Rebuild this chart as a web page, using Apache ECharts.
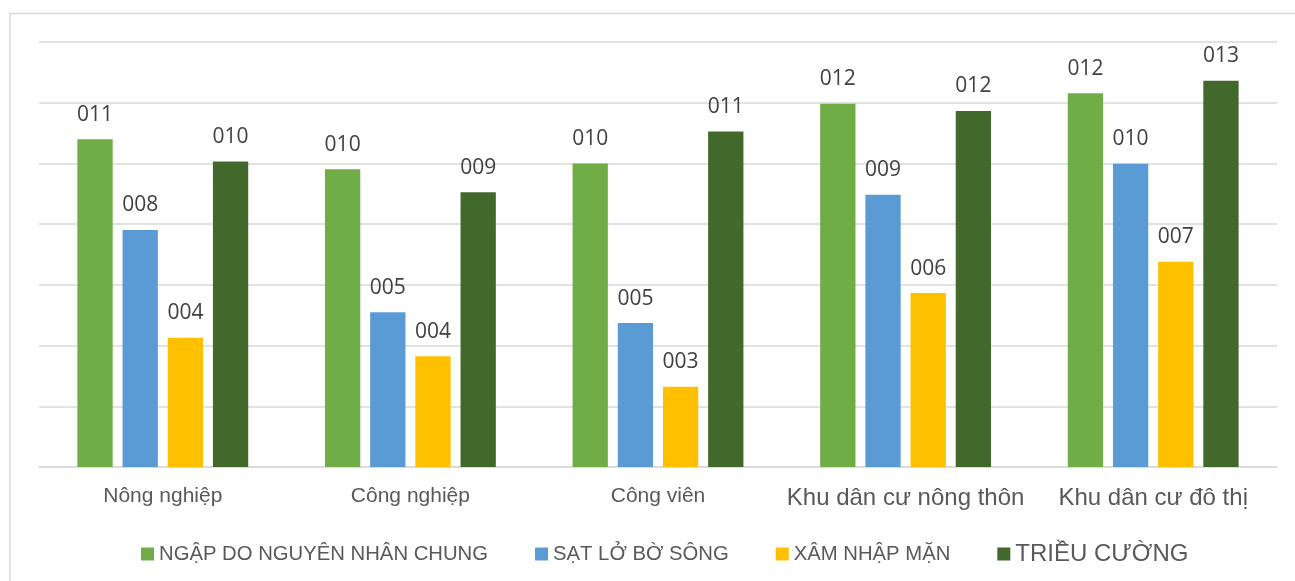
<!DOCTYPE html>
<html>
<head>
<meta charset="utf-8">
<script src="https://cdn.jsdelivr.net/npm/echarts@6/dist/echarts.min.js"></script>
<style>
  html, body { margin: 0; padding: 0; background: #ffffff; }
  #chart { width: 1295px; height: 581px; }
</style>
</head>
<body>
<div id="chart"></div>
<script>
// Nhóm đối tượng chịu ảnh hưởng
const categories = ['Nông nghiệp', 'Công nghiệp', 'Công viên', 'Khu dân cư nông thôn', 'Khu dân cư đô thị'];

// Tên các loại rủi ro
const seriesNames = ['NGẬP DO NGUYÊN NHÂN CHUNG', 'SẠT LỞ BỜ SÔNG', 'XÂM NHẬP MẶN', 'TRIỀU CƯỜNG'];

// Giá trị theo từng loại rủi ro
const ngapChung = [10.80, 9.81, 10.00, 11.97, 12.31];
const satLo     = [7.81, 5.10, 4.74, 8.97, 9.99];
const xamNhap   = [4.26, 3.65, 2.64, 5.73, 6.76];
const trieuCuong = [10.06, 9.05, 11.05, 11.73, 12.72];

// Trục tung (ẩn nhãn)
const yMin = 0, yMax = 14, yStep = 2;

const colors = ['#70AD47', '#5B9BD5', '#FFC000', '#43682B'];
const seriesValues = [ngapChung, satLo, xamNhap, trieuCuong];

const pad3 = v => String(Math.round(v)).padStart(3, '0');

const chart = echarts.init(document.getElementById('chart'), null, { renderer: 'canvas' });

chart.setOption({
  animation: false,
  backgroundColor: '#ffffff',
  color: colors,
  graphic: [{
    type: 'rect',
    shape: { x: 10, y: 13.5, width: 1300, height: 600 },
    style: { fill: 'none', stroke: '#d9d9d9', lineWidth: 1.5 },
    silent: true
  }],
  grid: { left: 39, right: 18, top: 42, bottom: 114 },
  legend: {
    data: seriesNames.map((name, i) => i === 3
      ? { name, textStyle: { fontSize: 24 } }
      : { name }),
    left: 136,
    top: 537,
    icon: 'rect',
    itemWidth: 13,
    itemHeight: 13,
    itemGap: 47,
    textStyle: { color: '#595959', fontFamily: 'Liberation Sans', fontSize: 20.3 }
  },
  xAxis: {
    type: 'category',
    data: categories,
    axisLine: { lineStyle: { color: '#d9d9d9', width: 1.5 } },
    axisTick: { show: false },
    axisLabel: {
      color: '#595959', fontFamily: 'Liberation Sans', fontSize: 21, margin: 19, interval: 0,
      formatter: (v, idx) => idx >= 3 ? '{w|' + v + '}' : v,
      rich: { w: { color: '#595959', fontFamily: 'Liberation Sans', fontSize: 24 } }
    }
  },
  yAxis: {
    type: 'value',
    min: yMin, max: yMax, interval: yStep,
    axisLabel: { show: false },
    axisLine: { show: false },
    axisTick: { show: false },
    splitLine: { lineStyle: { color: '#d9d9d9', width: 1.5 } }
  },
  series: seriesNames.map((name, i) => ({
    name,
    type: 'bar',
    data: seriesValues[i],
    barGap: '28%',
    barCategoryGap: '31%',
    itemStyle: { color: colors[i] },
    label: {
      show: true,
      position: 'top',
      distance: 14,
      color: '#404040',
      fontFamily: 'Open Sans',
      fontSize: 21,
      formatter: p => pad3(p.value)
    }
  }))
});
</script>
</body>
</html>
